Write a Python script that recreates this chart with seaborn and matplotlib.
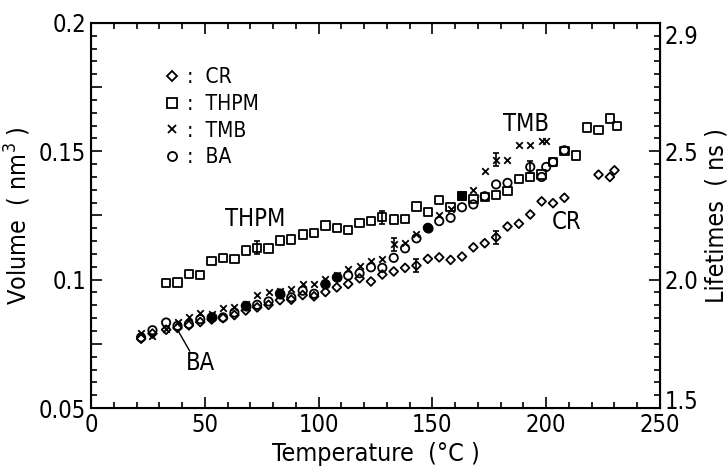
import matplotlib
matplotlib.use('Agg')
import matplotlib.pyplot as plt
import matplotlib.transforms as mtransforms
import seaborn as sns
from matplotlib.ticker import MultipleLocator, FixedLocator, FuncFormatter
from matplotlib.lines import Line2D

# THPM (squares)
thpm_t = [33, 38, 43, 48, 53, 58, 63, 68, 73, 78, 83, 88, 93, 98, 103, 108, 113, 118, 123, 128,
          133, 138, 143, 148, 153, 158, 163, 168, 173, 178, 183, 188, 193, 198, 203, 208, 213, 218,
          223, 228, 231]
thpm_v = [0.0987, 0.0989, 0.1022, 0.1018, 0.1074, 0.1085, 0.1081, 0.1113, 0.1124, 0.1122, 0.1152,
          0.1156, 0.1176, 0.1181, 0.1211, 0.1200, 0.1194, 0.1221, 0.1228, 0.1243, 0.1234, 0.1236,
          0.1285, 0.1263, 0.1310, 0.1282, 0.1325, 0.1315, 0.1321, 0.1329, 0.1345, 0.1391, 0.1400,
          0.1410, 0.1458, 0.1501, 0.1484, 0.1593, 0.1582, 0.1628, 0.1598]
thpm_filled = [26]
thpm_err = [8, 19]

# BA (circles)
ba_t = [22, 27, 33, 38, 43, 48, 53, 58, 63, 68, 73, 78, 83, 88, 93, 98, 103, 108, 113, 118, 123,
        128, 133, 138, 143, 148, 153, 158, 163, 168, 173, 178, 183, 193, 198, 200, 203, 208]
ba_v = [0.0775, 0.0803, 0.0833, 0.0820, 0.0827, 0.0846, 0.0853, 0.0853, 0.0872, 0.0898, 0.0902,
        0.0915, 0.0946, 0.0931, 0.0957, 0.0945, 0.0983, 0.1009, 0.1016, 0.1025, 0.1048, 0.1046,
        0.1085, 0.1122, 0.1161, 0.1202, 0.1228, 0.1241, 0.1282, 0.1293, 0.1325, 0.1371, 0.1377,
        0.1439, 0.1400, 0.1439, 0.1458, 0.1504]
ba_filled = [6, 9, 12, 16, 17, 25]
ba_err = [33]

# TMB (crosses)
tmb_t = [22, 27, 33, 38, 43, 48, 53, 58, 63, 68, 73, 78, 83, 88, 93, 98, 103, 108, 113, 118, 123,
         128, 133, 138, 143, 153, 158, 168, 173, 178, 183, 188, 193, 198, 200]
tmb_v = [0.0794, 0.0781, 0.0809, 0.0835, 0.0853, 0.0870, 0.0865, 0.0889, 0.0892, 0.0905, 0.0940,
         0.0950, 0.0955, 0.0964, 0.0983, 0.0984, 0.1003, 0.1020, 0.1042, 0.1055, 0.1071, 0.1081,
         0.1137, 0.1142, 0.1179, 0.1253, 0.1276, 0.1348, 0.1424, 0.1467, 0.1468, 0.1526, 0.1526,
         0.1540, 0.1540]
tmb_err = [22, 29]

# CR (diamonds)
cr_t = [22, 27, 33, 38, 43, 48, 53, 58, 63, 68, 73, 78, 83, 88, 93, 98, 103, 108, 113, 118, 123,
        128, 133, 138, 143, 148, 153, 158, 163, 168, 173, 178, 183, 188, 193, 198, 203, 208, 223,
        228, 230]
cr_v = [0.0770, 0.0790, 0.0805, 0.0812, 0.0822, 0.0835, 0.0845, 0.0850, 0.0862, 0.0880, 0.0892,
        0.0902, 0.0920, 0.0922, 0.0940, 0.0935, 0.0952, 0.0970, 0.0983, 0.1005, 0.0993, 0.1020,
        0.1032, 0.1046, 0.1055, 0.1081, 0.1087, 0.1077, 0.1090, 0.1126, 0.1142, 0.1165, 0.1207,
        0.1218, 0.1254, 0.1305, 0.1298, 0.1319, 0.1409, 0.1400, 0.1426]
cr_err = [24, 31]

# right axis: lifetimes at the volume ticks
vol_ticks = [0.05, 0.1, 0.15, 0.2]
life_labels = ['1.5', '2.0', '2.5', '2.9']

sns.set_style("ticks")
plt.rcParams['font.family'] = ['DejaVu Sans']
plt.rcParams['font.stretch'] = 'condensed'
plt.rcParams['mathtext.fontset'] = 'dejavusans'
for k in ['text.color', 'axes.labelcolor', 'xtick.color', 'ytick.color', 'axes.edgecolor']:
    plt.rcParams[k] = 'black'

fig = plt.figure(figsize=(7.27, 4.68), dpi=100)
ax = fig.add_axes([0.1252, 0.1282, 0.7826, 0.8227])

lw = 1.3
sns.scatterplot(x=cr_t, y=cr_v, ax=ax, marker='D', s=20, facecolor='none', edgecolor='k', linewidth=lw)
sns.scatterplot(x=thpm_t, y=thpm_v, ax=ax, marker='s', s=36, facecolor='none', edgecolor='k', linewidth=lw)
sns.scatterplot(x=ba_t, y=ba_v, ax=ax, marker='o', s=36, facecolor='none', edgecolor='k', linewidth=lw)
sns.scatterplot(x=tmb_t, y=tmb_v, ax=ax, marker='x', s=22, color='k', linewidth=lw)

sns.scatterplot(x=[ba_t[i] for i in ba_filled], y=[ba_v[i] for i in ba_filled], ax=ax,
                marker='o', s=36, color='k', edgecolor='k', linewidth=lw)
sns.scatterplot(x=[thpm_t[i] for i in thpm_filled], y=[thpm_v[i] for i in thpm_filled], ax=ax,
                marker='s', s=36, color='k', edgecolor='k', linewidth=lw)

for tt, vv, idx in [(thpm_t, thpm_v, thpm_err), (ba_t, ba_v, ba_err), (tmb_t, tmb_v, tmb_err), (cr_t, cr_v, cr_err)]:
    ax.errorbar([tt[i] for i in idx], [vv[i] for i in idx], yerr=0.0025, fmt='none',
                ecolor='k', elinewidth=1.2, capsize=2.5, capthick=1.2)

# labels on the curves
ax.text(72, 0.1235, 'THPM', fontsize=17, ha='center', va='center')
ax.text(191, 0.1605, 'TMB', fontsize=17, ha='center', va='center')
ax.text(209, 0.1225, 'CR', fontsize=17, ha='center', va='center')
ax.text(48, 0.0675, 'BA', fontsize=17, ha='center', va='center')
ax.annotate('', xy=(ba_t[3], ba_v[3] - 0.0015), xytext=(44, 0.0712),
            arrowprops=dict(arrowstyle='-', color='k', lw=1))

# legend
handles = [Line2D([], [], marker='D', ls='none', mfc='none', mec='k', ms=5, mew=lw),
           Line2D([], [], marker='s', ls='none', mfc='none', mec='k', ms=6.5, mew=lw),
           Line2D([], [], marker='x', ls='none', color='k', ms=5.5, mew=lw),
           Line2D([], [], marker='o', ls='none', mfc='none', mec='k', ms=6.5, mew=lw)]
ax.legend(handles, [':  CR', ':  THPM', ':  TMB', ':  BA'], loc='upper left',
          bbox_to_anchor=(0.105, 0.912), frameon=False, fontsize=15, handlelength=1,
          handletextpad=0.25, labelspacing=0.32, borderpad=0)

ax.set_xlim(0, 250)
ax.set_ylim(0.05, 0.2)
ax.xaxis.set_major_locator(MultipleLocator(50))
ax.xaxis.set_minor_locator(MultipleLocator(10))
ax.yaxis.set_major_locator(MultipleLocator(0.025))
ax.yaxis.set_minor_locator(MultipleLocator(0.005))
ax.yaxis.set_major_formatter(FuncFormatter(
    lambda v, _: ('%g' % round(v, 3)) if abs(round(v / 0.05) * 0.05 - v) < 1e-6 else ''))
ax.tick_params(which='both', direction='in', top=True, right=False, labelsize=17, width=1.2)
ax.tick_params(which='major', length=8)
ax.tick_params(which='minor', length=4)
for s in ax.spines.values():
    s.set_linewidth(1.5)

ax2 = ax.twinx()
ax2.set_ylim(0.05, 0.2)
ax2.yaxis.set_major_locator(FixedLocator(vol_ticks))
ax2.set_yticklabels(life_labels)
ax2.yaxis.set_minor_locator(MultipleLocator(0.005))
ax2.tick_params(which='both', direction='in', labelsize=17, width=1.2)
ax2.tick_params(which='major', length=8)
ax2.tick_params(which='minor', length=4)
# nudge the end labels like the original
for lab, dy in zip(ax2.get_yticklabels(), [9, 0, 0, -12]):
    lab.set_transform(lab.get_transform() + mtransforms.ScaledTranslation(0, dy / 100, fig.dpi_scale_trans))

ax.set_xlabel('Temperature  (°C )', fontsize=18, labelpad=4)
ax.set_ylabel('Volume  ( nm$^3$ )', fontsize=18, labelpad=4)
ax2.set_ylabel('Lifetimes  ( ns )', fontsize=18, labelpad=4)

fig.savefig('out.png', dpi=100)
